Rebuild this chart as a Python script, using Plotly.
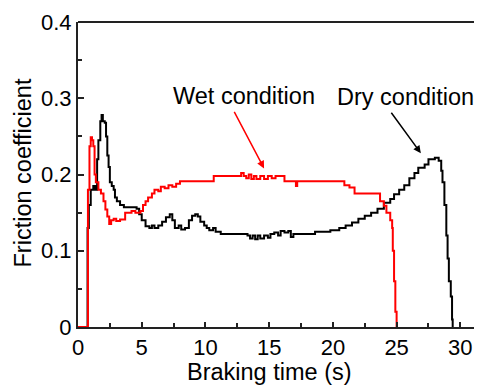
import plotly.graph_objects as go

# Dry condition (black)
dry_t = [0, 0.7, 0.75, 0.85, 1.0, 1.2, 1.35, 1.5, 1.6, 1.75, 1.85, 1.95, 2.1, 2.2, 2.3, 2.4, 2.5,
         2.65, 2.8, 2.9, 3.05, 3.3, 3.6, 4.0, 4.6, 4.8, 5.0, 5.3, 5.6, 5.8, 6.0, 6.3, 6.6, 6.9,
         7.2, 7.4, 7.6, 7.9, 8.1, 8.4, 8.7, 8.95, 9.2, 9.4, 9.6, 9.9, 10.1, 10.3, 10.6, 10.8,
         11.2, 12.0, 13.0, 13.3, 13.5, 13.7, 13.9, 14.1, 14.3, 14.6, 14.9, 15.1, 15.4, 15.7,
         15.9, 16.2, 16.5, 16.7, 16.9, 17.5, 18.3, 18.6, 19.2, 19.8, 20.5, 21.0, 21.5, 22.0,
         22.5, 23.0, 23.5, 24.0, 24.5, 24.8, 25.2, 25.6, 26.0, 26.4, 26.7, 27.2, 27.5, 28.0,
         28.3, 28.5, 28.6, 28.75, 28.9, 29.0, 29.1, 29.25, 29.35, 29.4]
dry_mu = [0, 0, 0.13, 0.16, 0.18, 0.185, 0.18, 0.22, 0.245, 0.27, 0.278, 0.27, 0.268, 0.25,
          0.225, 0.21, 0.19, 0.185, 0.18, 0.17, 0.165, 0.16, 0.157, 0.157, 0.155, 0.148, 0.14,
          0.132, 0.13, 0.133, 0.13, 0.133, 0.138, 0.144, 0.148, 0.14, 0.13, 0.133, 0.128, 0.13,
          0.14, 0.146, 0.148, 0.145, 0.138, 0.133, 0.13, 0.127, 0.13, 0.125, 0.122, 0.122,
          0.122, 0.12, 0.116, 0.12, 0.115, 0.12, 0.116, 0.12, 0.117, 0.122, 0.124, 0.12, 0.126,
          0.124, 0.126, 0.118, 0.122, 0.122, 0.122, 0.125, 0.125, 0.127, 0.13, 0.133, 0.137,
          0.142, 0.146, 0.15, 0.155, 0.163, 0.168, 0.174, 0.18, 0.186, 0.195, 0.202, 0.209,
          0.213, 0.22, 0.222, 0.218, 0.205, 0.19, 0.16, 0.12, 0.09, 0.06, 0.04, 0.01, 0]

# Wet condition (red)
wet_t = [0, 0.72, 0.78, 0.9, 1.0, 1.1, 1.2, 1.3, 1.4, 1.6, 1.8, 2.0, 2.15, 2.3, 2.45, 2.6, 2.8,
         3.0, 3.3, 3.6, 3.7, 4.2, 4.5, 4.9, 5.1, 5.3, 5.5, 5.8, 6.0, 6.3, 6.5, 6.8, 7.1, 7.4,
         7.7, 8.0, 10.5, 10.65, 12.5, 12.8, 13.0, 13.2, 13.4, 13.6, 13.8, 14.0, 14.3, 14.6,
         14.9, 15.2, 15.5, 16.0, 16.2, 16.4, 17.0, 17.1, 17.2, 20.6, 20.9, 21.3, 21.7, 23.5,
         23.7, 24.0, 24.2, 24.5, 24.65, 24.7, 24.8, 24.9, 25.0]
wet_mu = [0, 0, 0.18, 0.237, 0.249, 0.245, 0.237, 0.2, 0.19, 0.18, 0.175, 0.165, 0.154, 0.145,
          0.135, 0.14, 0.142, 0.139, 0.141, 0.141, 0.15, 0.152, 0.15, 0.152, 0.16, 0.165, 0.17,
          0.175, 0.18, 0.178, 0.184, 0.182, 0.186, 0.184, 0.188, 0.191, 0.191, 0.198, 0.198,
          0.202, 0.198, 0.195, 0.2, 0.194, 0.198, 0.194, 0.198, 0.194, 0.198, 0.195, 0.198,
          0.198, 0.191, 0.191, 0.191, 0.185, 0.191, 0.191, 0.186, 0.183, 0.175, 0.175, 0.165,
          0.159, 0.15, 0.14, 0.13, 0.1, 0.06, 0.02, 0]

x_ticks = [0, 5, 10, 15, 20, 25, 30]
y_ticks = [0, 0.1, 0.2, 0.3, 0.4]
y_tick_labels = ["0", "0.1", "0.2", "0.3", "0.4"]

FONT = "Liberation Sans, Arial, sans-serif"
OFF = 8  # default page body margin
W, H = 482 - OFF, 385 - OFF
# plot area in screen pixels: left 78, top 22, right 482, bottom 327
L, T = 78 - OFF, 22 - OFF
R = 0
B = H - (327 - OFF)
PW, PH = W - L - R, H - T - B


def px(sx):
    return (sx - 78) / PW


def py(sy):
    return (327 - sy) / PH


fig = go.Figure()
fig.add_trace(go.Scatter(x=dry_t, y=dry_mu, mode="lines", line=dict(color="black", width=2, shape="hv"),
                         name="Dry condition", showlegend=False))
fig.add_trace(go.Scatter(x=wet_t, y=wet_mu, mode="lines", line=dict(color="#ff0000", width=2, shape="hv"),
                         name="Wet condition", showlegend=False))

fig.update_layout(
    width=W, height=H,
    margin=dict(l=L, r=R, t=T, b=B, autoexpand=False),
    paper_bgcolor="white", plot_bgcolor="white",
    font=dict(family=FONT, size=22, color="black"),
    xaxis=dict(range=[0, 31.7], tickvals=x_ticks, ticks="inside", ticklen=5, tickwidth=2,
               tickcolor="#222", showline=True, linecolor="#222", linewidth=2, showgrid=False,
               zeroline=False, automargin=False,
               minor=dict(dtick=2.5, tick0=0, ticks="inside", ticklen=4,
                          tickwidth=2, tickcolor="#222"),
               tickfont=dict(size=22)),
    yaxis=dict(range=[0, 0.4], tickvals=y_ticks, ticktext=y_tick_labels, ticks="inside",
               ticklen=6, tickwidth=2, tickcolor="#222", showline=True, linecolor="#222",
               linewidth=2, showgrid=False, zeroline=False, automargin=False,
               minor=dict(dtick=0.05, tick0=0, ticks="inside", ticklen=4, tickwidth=2,
                          tickcolor="#222"),
               tickfont=dict(size=22)),
)

fig.add_shape(type="line", xref="paper", yref="paper", x0=0, x1=1, y0=1, y1=1,
              line=dict(color="#222", width=2))

# axis titles
fig.add_annotation(x=px(269), y=py(372), xref="paper", yref="paper", xanchor="center",
                   yanchor="middle", text="Braking time (s)", showarrow=False,
                   font=dict(size=23.5, family=FONT))
fig.add_annotation(x=px(22.5), y=py(173), xref="paper", yref="paper", textangle=-90,
                   xanchor="center", yanchor="middle",
                   text="Friction coefficient", showarrow=False, font=dict(size=23.5, family=FONT))

fig.add_annotation(x=13.0, y=0.303, xref="x", yref="y", text="Wet condition", showarrow=False,
                   xanchor="center", yanchor="middle", font=dict(size=23.5, family=FONT))
fig.add_annotation(x=25.7, y=0.302, xref="x", yref="y", text="Dry condition", showarrow=False,
                   xanchor="center", yanchor="middle", font=dict(size=23.5, family=FONT))
fig.add_annotation(x=14.6, y=0.208, ax=12.2, ay=0.284, xref="x", yref="y", axref="x", ayref="y",
                   text="", showarrow=True, arrowhead=2, arrowsize=1, arrowwidth=1.5,
                   arrowcolor="#ff0000")
fig.add_annotation(x=26.9, y=0.228, ax=24.5, ay=0.283, xref="x", yref="y", axref="x", ayref="y",
                   text="", showarrow=True, arrowhead=2, arrowsize=1, arrowwidth=1.5,
                   arrowcolor="black")

fig.write_html("out.html")
